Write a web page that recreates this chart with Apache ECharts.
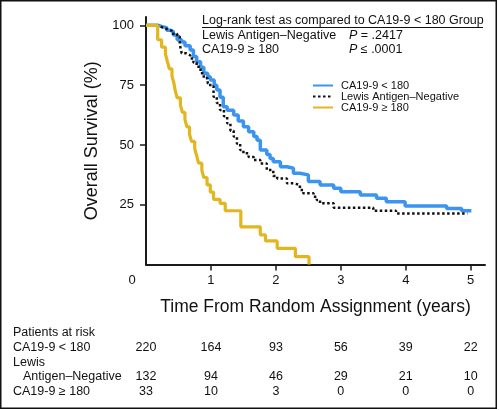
<!DOCTYPE html>
<html>
<head>
<meta charset="utf-8">
<script src="https://cdn.jsdelivr.net/npm/echarts@6/dist/echarts.min.js"></script>
<style>html,body{margin:0;padding:0;background:#fff}#c{width:500px;height:410px}</style>
</head>
<body>
<div id="c"></div>
<script>
// ---- data ----
const seriesNames = ['CA19-9 < 180', 'Lewis Antigen–Negative', 'CA19-9 ≥ 180'];
const xTickValues = [1, 2, 3, 4, 5];
const yTickValues = [25, 50, 75, 100];

const blueT = [0,0.19,0.25,0.32,0.37,0.42,0.48,0.55,0.60,0.68,0.73,0.78,0.84,0.89,0.95,0.99,1.05,1.09,1.14,1.19,1.25,1.35,1.42,1.50,1.58,1.66,1.71,1.76,1.86,1.91,1.96,2.07,2.17,2.27,2.37,2.50,2.68,2.89,3.00,3.30,3.55,3.70,3.99,4.63,4.86,5.01];
const blueS = [100,99.5,99,98,97.4,96,94,93,91.5,89.7,87,84.8,82.5,80,78.5,77.2,75,73,70,66,64.5,62.5,60,57.6,55.5,53.5,52,47.9,46,44.4,43,40.9,40.3,38.2,37.5,34.7,33.3,31.9,30.5,29.1,27.7,26.3,24.5,23.5,22.5,22.5];

const lewisT = [0,0.18,0.25,0.32,0.40,0.48,0.52,0.55,0.62,0.68,0.73,0.78,0.84,0.89,0.95,0.99,1.04,1.09,1.14,1.20,1.25,1.30,1.35,1.40,1.45,1.50,1.58,1.66,1.76,1.86,1.96,2.02,2.17,2.27,2.37,2.42,2.58,2.63,2.68,2.89,3.50,3.85,4.95];
const lewisS = [100,99.2,98.5,97.7,96.5,95.3,92,88.3,87.5,86.2,84.5,82.7,80,77.9,75.8,74.4,70.2,67.5,64.6,62,59.1,56,53.5,50.5,47.9,46.5,45,43.7,42.3,39.5,37,36,34,33.3,31.2,29.8,28.4,27,25.6,23.8,22.5,21.4,21.4];

const yellowT = [0,0.18,0.24,0.30,0.33,0.36,0.40,0.43,0.45,0.48,0.53,0.56,0.60,0.63,0.67,0.70,0.75,0.78,0.81,0.86,0.89,0.94,0.99,1.04,1.14,1.22,1.46,1.76,1.84,2.02,2.30,2.51];
const yellowS = [100,94,90.9,87.9,84.8,81.8,78.8,75.8,72.7,69.7,66.7,63.6,60.6,57.6,54.5,51.5,48.5,45.5,42.4,39.4,36.4,33.3,30.3,27.3,25.6,22.5,15.8,12.4,9.9,6.8,3.3,0];

const riskTimes = [0, 1, 2, 3, 4, 5];
const riskBlue = [220, 164, 93, 56, 39, 22];
const riskLewis = [132, 94, 46, 29, 21, 10];
const riskYellow = [33, 10, 3, 0, 0, 0];

const annotationTitle = 'Log-rank test as compared to CA19-9 < 180 Group';
const pLewis = '.2417';
const pYellow = '.0001';

// ---- chart ----
const FF = '"Liberation Sans", Arial, Helvetica, sans-serif';
const zip = (a, b) => a.map((v, i) => [v, b[i]]);
const chart = echarts.init(document.getElementById('c'), null, {renderer: 'canvas'});

const axisColor = '#1a1a1a';
chart.setOption({
  animation: false,
  backgroundColor: '#fff',
  textStyle: {fontFamily: FF},
  grid: {left: 146, right: 15, top: 17, bottom: 145.4, containLabel: false},
  xAxis: {
    type: 'value', min: 0, max: 5.22,
    name: 'Time From Random Assignment (years)',
    nameLocation: 'middle', nameGap: 34,
    nameTextStyle: {fontSize: 17.5, color: '#111', fontFamily: FF},
    axisLine: {show: true, lineStyle: {color: axisColor, width: 2}},
    axisTick: {show: true, length: 6, lineStyle: {color: axisColor, width: 1.5}, customValues: xTickValues},
    axisLabel: {fontSize: 13, color: '#111', margin: 9, fontFamily: FF, customValues: xTickValues},
    splitLine: {show: false}
  },
  yAxis: {
    type: 'value', min: 0, max: 103.5,
    name: 'Overall Survival (%)',
    nameLocation: 'middle', nameGap: 38,
    nameTextStyle: {fontSize: 18, color: '#111', fontFamily: FF},
    axisLine: {show: true, lineStyle: {color: axisColor, width: 2}},
    axisTick: {show: true, length: 6, lineStyle: {color: axisColor, width: 1.5}, customValues: yTickValues},
    axisLabel: {fontSize: 13, color: '#111', margin: 12, fontFamily: FF, customValues: yTickValues},
    splitLine: {show: false}
  },
  legend: {
    orient: 'vertical', left: 312, top: 80, padding: 0,
    itemWidth: 20, itemHeight: 12, itemGap: 0,
    itemStyle: {opacity: 0},
    textStyle: {fontSize: 11, color: '#111', fontFamily: FF, padding: [0, 0, 0, 3]},
    data: seriesNames
  },
  series: [
    {name: seriesNames[0], type: 'line', step: 'end', symbol: 'none', data: zip(blueT, blueS),
     lineStyle: {color: '#3a94f0', width: 3.5}, itemStyle: {color: '#3a94f0'}},
    {name: seriesNames[1], type: 'line', step: 'end', symbol: 'none', data: zip(lewisT, lewisS),
     lineStyle: {color: '#111', width: 2.5, type: [2.5, 2.5], cap: 'butt'}, itemStyle: {color: '#111'}},
    {name: seriesNames[2], type: 'line', step: 'end', symbol: 'none', data: zip(yellowT, yellowS),
     lineStyle: {color: '#e2b61f', width: 3.2}, itemStyle: {color: '#e2b61f'}}
  ]
});

// ---- texts: annotation, origin label, risk table ----
function txt(x, y, text, size, align, extra) {
  return Object.assign({
    type: 'text', x: x, y: y, silent: true,
    style: Object.assign({text: text, font: size + 'px ' + FF, fontSize: size, fontFamily: FF, fill: '#111',
      align: align || 'left', verticalAlign: 'middle', textAlign: align || 'left', textVerticalAlign: 'middle'}, extra || {})
  });
}
const pRich = {i: {fontStyle: 'italic', fontSize: 12.5, fontFamily: FF, fill: '#111', color: '#111'}};
const g = [];
g.push({type: 'rect', shape: {x: 0.75, y: 0.75, width: 495.5, height: 407.5}, style: {fill: 'none', stroke: '#111', lineWidth: 1.5}, silent: true});
g.push(txt(202, 21, annotationTitle, 12.5));
g.push({type: 'line', shape: {x1: 202, y1: 27.5, x2: 483, y2: 27.5}, style: {stroke: '#111', lineWidth: 1}, silent: true});
g.push(txt(202, 35.5, seriesNames[1], 12.5));
g.push(txt(202, 50, seriesNames[2], 12.5));
g.push(txt(349, 35.5, '{i|P} = ' + pLewis, 12.5, 'left', {rich: pRich}));
g.push(txt(349, 50, '{i|P} ≤ ' + pYellow, 12.5, 'left', {rich: pRich}));
g.push(txt(132, 280, '0', 13, 'center'));

g.push(txt(13, 333, 'Patients at risk', 12.5));
g.push(txt(13, 348, seriesNames[0], 12.5));
g.push(txt(13, 362.5, 'Lewis', 12.5));
g.push(txt(23, 377, 'Antigen–Negative', 12.5));
g.push(txt(13, 391.5, seriesNames[2], 12.5));
const rows = [[riskBlue, 348], [riskLewis, 377], [riskYellow, 391.5]];
rows.forEach(function (r) {
  riskTimes.forEach(function (t, i) {
    const px = chart.convertToPixel({xAxisIndex: 0}, t);
    g.push(txt(px, r[1], String(r[0][i]), 12.5, 'center'));
  });
});
chart.setOption({graphic: {elements: g}});
</script>
</body>
</html>
